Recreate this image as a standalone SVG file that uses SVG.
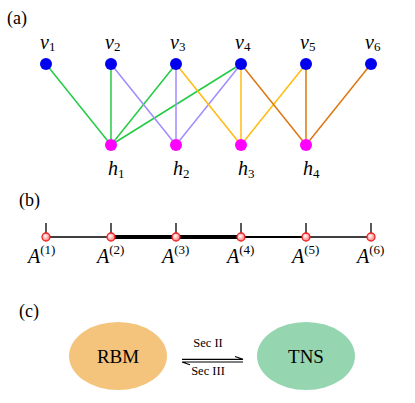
<svg xmlns="http://www.w3.org/2000/svg" width="415" height="403" viewBox="0 0 415 403">
<defs>
<radialGradient id="pg" cx="0.4" cy="0.4" r="0.6">
<stop offset="0" stop-color="#ffffff"/>
<stop offset="0.5" stop-color="#ffbbbb"/>
<stop offset="1" stop-color="#ff7777"/>
</radialGradient>
</defs>
<style>
text{font-family:"Liberation Serif","Times New Roman","DejaVu Serif",serif;fill:#000}
.lbl{font-size:18px}
.it{font-style:italic;font-size:20px}
.ia{font-style:italic;font-size:20px}
.sub{font-style:normal;font-size:13px}
.vn{fill:#0000ee}
.hn{fill:#ff00ff}
.g{stroke:#22cc44;stroke-width:1.5;fill:none}
.p{stroke:#a08cff;stroke-width:1.5;fill:none}
.y{stroke:#ffbb11;stroke-width:1.5;fill:none}
.o{stroke:#dd7711;stroke-width:1.5;fill:none}
.mps{fill:url(#pg);stroke:#ee2222;stroke-width:1.3}
.tick{stroke:#000;stroke-width:1.3}
.sec{font-size:12.5px}
.big{font-size:19px}
</style>
<text class="lbl" x="7" y="24">(a)</text>
<text class="lbl" x="19" y="206">(b)</text>
<text class="lbl" x="19" y="317">(c)</text>
<g id="edges">
<line class="g" x1="46" y1="64" x2="111" y2="145"/>
<line class="g" x1="111" y1="64" x2="111" y2="145"/>
<line class="g" x1="176" y1="64" x2="111" y2="145"/>
<line class="g" x1="241" y1="64" x2="111" y2="145"/>
<line class="p" x1="111" y1="64" x2="176" y2="145"/>
<line class="p" x1="176" y1="64" x2="176" y2="145"/>
<line class="p" x1="241" y1="64" x2="176" y2="145"/>
<line class="y" x1="176" y1="64" x2="241" y2="145"/>
<line class="y" x1="241" y1="64" x2="241" y2="145"/>
<line class="y" x1="306" y1="64" x2="241" y2="145"/>
<line class="o" x1="241" y1="64" x2="306" y2="145"/>
<line class="o" x1="306" y1="64" x2="306" y2="145"/>
<line class="o" x1="371" y1="64" x2="306" y2="145"/>
</g>
<g id="v1"><circle class="vn" cx="46" cy="64" r="6"/><text class="it" x="40" y="49">v<tspan class="sub" dy="2">1</tspan></text></g>
<g id="v2"><circle class="vn" cx="111" cy="64" r="6"/><text class="it" x="105" y="49">v<tspan class="sub" dy="2">2</tspan></text></g>
<g id="v3"><circle class="vn" cx="176" cy="64" r="6"/><text class="it" x="170" y="49">v<tspan class="sub" dy="2">3</tspan></text></g>
<g id="v4"><circle class="vn" cx="241" cy="64" r="6"/><text class="it" x="235" y="49">v<tspan class="sub" dy="2">4</tspan></text></g>
<g id="v5"><circle class="vn" cx="306" cy="64" r="6"/><text class="it" x="300" y="49">v<tspan class="sub" dy="2">5</tspan></text></g>
<g id="v6"><circle class="vn" cx="371" cy="64" r="6"/><text class="it" x="365" y="49">v<tspan class="sub" dy="2">6</tspan></text></g>
<g id="h1"><circle class="hn" cx="111" cy="145" r="6"/><text class="it" x="108" y="175">h<tspan class="sub" dy="2.5">1</tspan></text></g>
<g id="h2"><circle class="hn" cx="176" cy="145" r="6"/><text class="it" x="173" y="175">h<tspan class="sub" dy="2.5">2</tspan></text></g>
<g id="h3"><circle class="hn" cx="241" cy="145" r="6"/><text class="it" x="238" y="175">h<tspan class="sub" dy="2.5">3</tspan></text></g>
<g id="h4"><circle class="hn" cx="306" cy="145" r="6"/><text class="it" x="303" y="175">h<tspan class="sub" dy="2.5">4</tspan></text></g>
<g id="bonds">
<line x1="46" y1="237" x2="111" y2="237" stroke="#000" stroke-width="1.3"/>
<line x1="111" y1="237" x2="241" y2="237" stroke="#000" stroke-width="4"/>
<line x1="241" y1="237" x2="306" y2="237" stroke="#000" stroke-width="2.2"/>
<line x1="306" y1="237" x2="371" y2="237" stroke="#000" stroke-width="1.3"/>
<line class="tick" x1="46" y1="223" x2="46" y2="237"/>
<line class="tick" x1="111" y1="223" x2="111" y2="237"/>
<line class="tick" x1="176" y1="223" x2="176" y2="237"/>
<line class="tick" x1="241" y1="223" x2="241" y2="237"/>
<line class="tick" x1="306" y1="223" x2="306" y2="237"/>
<line class="tick" x1="371" y1="223" x2="371" y2="237"/>
</g>
<g id="A1"><circle class="mps" cx="46" cy="237" r="4"/><text class="ia" x="28" y="263">A<tspan class="sub" dy="-9">(1)</tspan></text></g>
<g id="A2"><circle class="mps" cx="111" cy="237" r="4"/><text class="ia" x="97" y="263">A<tspan class="sub" dy="-9">(2)</tspan></text></g>
<g id="A3"><circle class="mps" cx="176" cy="237" r="4"/><text class="ia" x="162" y="263">A<tspan class="sub" dy="-9">(3)</tspan></text></g>
<g id="A4"><circle class="mps" cx="241" cy="237" r="4"/><text class="ia" x="227" y="263">A<tspan class="sub" dy="-9">(4)</tspan></text></g>
<g id="A5"><circle class="mps" cx="306" cy="237" r="4"/><text class="ia" x="292" y="263">A<tspan class="sub" dy="-9">(5)</tspan></text></g>
<g id="A6"><circle class="mps" cx="371" cy="237" r="4"/><text class="ia" x="357" y="263">A<tspan class="sub" dy="-9">(6)</tspan></text></g>
<g id="RBM"><ellipse cx="118" cy="356" rx="49" ry="34" fill="#f4c47c"/><text class="big" x="118" y="363" text-anchor="middle">RBM</text></g>
<g id="TNS"><ellipse cx="306" cy="356" rx="49" ry="34" fill="#95d5b0"/><text class="big" x="306" y="363" text-anchor="middle">TNS</text></g>
<g id="arrows" stroke="#000" stroke-width="1.2" fill="none">
<path d="M182 359.3 H243 L235 356.5"/>
<path d="M243 362 H182 L190 364.8"/>
</g>
<text class="sec" x="208" y="347" text-anchor="middle">Sec II</text>
<text class="sec" x="208" y="375" text-anchor="middle">Sec III</text>
</svg>
